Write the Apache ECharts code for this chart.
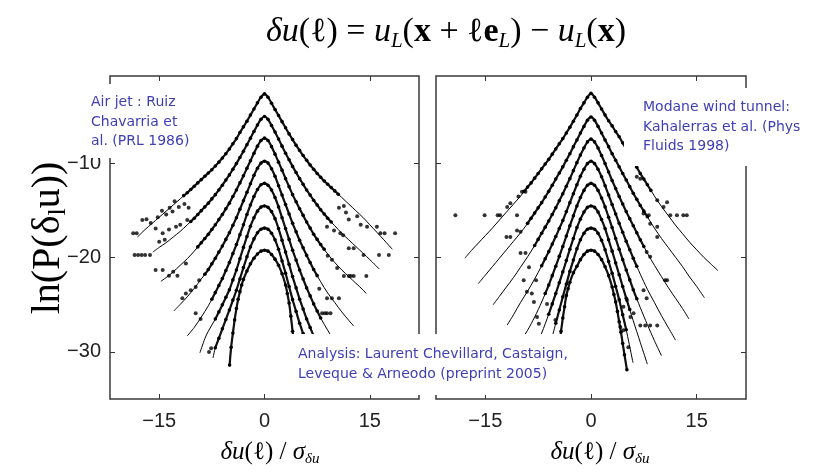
<!DOCTYPE html>
<html>
<head>
<meta charset="utf-8">
<script src="https://cdn.jsdelivr.net/npm/echarts@6/dist/echarts.min.js"></script>
<style>
  html, body { margin: 0; padding: 0; background: #fff; }
  #chart { width: 819px; height: 474px; }
</style>
</head>
<body>
<div id="chart"></div>
<script>
// Axis ticks and ranges (units of delta-u / sigma, and natural log of the PDF)
const X_TICKS = [-15, 0, 15];
const Y_TICKS = [-30, -20, -10];
const X_RANGE = [-22, 22];
const Y_RANGE = [-35, -0.7];

// ---- Air jet: fitted curves, one per scale, shifted vertically ----
const jetFit = [
  [[-18.1,-17.8],[-17,-17.0],[-16,-16.35],[-15,-15.7],[-14,-15.05],[-13,-14.4],[-12,-13.75],[-11,-13.1],[-10,-12.4],[-9,-11.7],[-8,-11.0],[-7,-10.25],[-6,-9.4],[-5,-8.45],[-4,-7.35],[-3,-6.1],[-2,-4.85],[-1.5,-4.2],[-1,-3.55],[-0.5,-2.95],[0,-2.6],[0.5,-2.95],[1,-3.6],[1.5,-4.25],[2,-4.9],[3,-6.2],[4,-7.45],[5,-8.6],[6,-9.65],[7,-10.6],[8,-11.45],[9,-12.2],[10,-12.9],[11,-13.6],[12,-14.3],[13,-15.0],[14,-15.7],[15,-16.5],[16,-17.3],[17,-18.1],[18.2,-19.1]],
  [[-15.9,-19.4],[-15,-18.9],[-14,-18.4],[-13,-17.8],[-12,-17.2],[-11,-16.5],[-10,-15.8],[-9,-15.0],[-8,-14.2],[-7,-13.3],[-6,-12.3],[-5,-11.2],[-4,-10.0],[-3,-8.7],[-2,-7.3],[-1.5,-6.6],[-1,-5.9],[-0.5,-5.3],[0,-5.0],[0.5,-5.3],[1,-5.95],[1.5,-6.65],[2,-7.4],[3,-8.9],[4,-10.3],[5,-11.6],[6,-12.8],[7,-13.9],[8,-14.9],[9,-15.8],[10,-16.6],[11,-17.4],[12,-18.1],[13,-18.8],[14,-19.5],[15,-20.2],[16.35,-21.2]],
  [[-14.75,-22.5],[-14,-22.1],[-13,-21.5],[-12,-20.8],[-11,-20.1],[-10,-19.3],[-9,-18.4],[-8,-17.5],[-7,-16.5],[-6,-15.4],[-5,-14.2],[-4,-12.8],[-3,-11.3],[-2,-9.7],[-1.5,-8.9],[-1,-8.15],[-0.5,-7.55],[0,-7.3],[0.5,-7.55],[1,-8.2],[1.5,-9.0],[2,-9.85],[3,-11.6],[4,-13.3],[5,-14.8],[6,-16.2],[7,-17.5],[8,-18.6],[9,-19.6],[10,-20.5],[11,-21.3],[12,-22.0],[13,-22.7],[14,-23.4],[14.5,-23.8]],
  [[-12.9,-25.65],[-12,-24.95],[-11,-24.15],[-10,-23.25],[-9,-22.25],[-8,-21.25],[-7,-20.05],[-6,-18.75],[-5,-17.35],[-4,-15.75],[-3,-13.95],[-2,-12.15],[-1.5,-11.25],[-1,-10.5],[-0.5,-9.95],[0,-9.75],[0.5,-9.95],[1,-10.55],[1.5,-11.35],[2,-12.35],[3,-14.35],[4,-16.35],[5,-18.15],[6,-19.75],[7,-21.25],[8,-22.55],[9,-23.75],[10,-24.75],[11,-25.75],[12,-26.65],[12.7,-27.25]],
  [[-11,-28.3],[-10,-27.4],[-9,-26.3],[-8,-25.1],[-7,-23.7],[-6,-22.2],[-5,-20.5],[-4,-18.6],[-3,-16.5],[-2,-14.4],[-1.5,-13.5],[-1,-12.75],[-0.5,-12.25],[0,-12.1],[0.5,-12.3],[1,-12.8],[1.5,-13.6],[2,-14.6],[3,-16.9],[4,-19.2],[5,-21.3],[6,-23.2],[7,-24.9],[8,-26.4],[9,-27.7],[10,-28.9],[11,-29.9]],
  [[-9.2,-30.1],[-8.5,-28.6],[-8,-27.8],[-7,-26.5],[-6,-25.0],[-5,-23.4],[-4,-21.3],[-3,-18.9],[-2,-16.65],[-1.5,-15.75],[-1,-15.05],[-0.5,-14.62],[0,-14.5],[0.5,-14.65],[1,-15.1],[1.5,-15.85],[2,-16.9],[3,-19.4],[4,-22.0],[5,-24.4],[6,-26.5],[7,-28.3],[8,-29.9]],
  [[-7.33,-30.65],[-7,-29.55],[-6,-27.55],[-5,-25.55],[-4,-23.45],[-3,-21.05],[-2,-18.85],[-1.5,-18.0],[-1,-17.35],[-0.5,-16.97],[0,-16.85],[0.5,-16.97],[1,-17.4],[1.5,-18.1],[2,-19.1],[3,-21.65],[4,-24.45],[5,-26.95],[6,-29.15],[6.5,-30.2]],
  [[-4.97,-31.4],[-4.75,-29.5],[-4.5,-28.0],[-4.25,-26.6],[-4,-25.4],[-3.5,-23.6],[-3,-22.3],[-2.5,-21.4],[-2,-20.65],[-1.5,-20.05],[-1,-19.6],[-0.5,-19.3],[0,-19.2],[0.5,-19.3],[1,-19.65],[1.5,-20.15],[2,-20.8],[2.5,-21.7],[3,-22.9],[3.5,-24.8],[4,-27.8],[4.5,-31.2]]
];

// ---- Air jet: measured histogram points along each curve ----
const jetDots = [
  [[-11.5,-13.4],[-11,-13.1],[-10.5,-12.75],[-10,-12.4],[-9.5,-12.05],[-9,-11.7],[-8.5,-11.35],[-8,-11.0],[-7.5,-10.65],[-7,-10.25],[-6.5,-9.85],[-6,-9.4],[-5.5,-8.95],[-5,-8.45],[-4.5,-7.9],[-4,-7.35],[-3.5,-6.7],[-3,-6.1],[-2.5,-5.5],[-2,-4.85],[-1.5,-4.2],[-1,-3.55],[-0.5,-2.95],[0,-2.6],[0.5,-2.95],[1,-3.6],[1.5,-4.25],[2,-4.9],[2.5,-5.55],[3,-6.2],[3.5,-6.85],[4,-7.45],[4.5,-8.05],[5,-8.6],[5.5,-9.15],[6,-9.65],[6.5,-10.15],[7,-10.6],[7.5,-11.05],[8,-11.45],[8.5,-11.85],[9,-12.2],[9.5,-12.55],[10,-12.9],[10.5,-13.25]],
  [[-10.5,-16.15],[-10,-15.8],[-9.5,-15.4],[-9,-15.0],[-8.5,-14.6],[-8,-14.2],[-7.5,-13.75],[-7,-13.3],[-6.5,-12.8],[-6,-12.3],[-5.5,-11.75],[-5,-11.2],[-4.5,-10.6],[-4,-10.0],[-3.5,-9.35],[-3,-8.7],[-2.5,-8.0],[-2,-7.3],[-1.5,-6.6],[-1,-5.9],[-0.5,-5.3],[0,-5.0],[0.5,-5.3],[1,-5.95],[1.5,-6.65],[2,-7.4],[2.5,-8.15],[3,-8.9],[3.5,-9.6],[4,-10.3],[4.5,-10.95],[5,-11.6],[5.5,-12.2],[6,-12.8],[6.5,-13.35],[7,-13.9],[7.5,-14.4],[8,-14.9],[8.5,-15.35],[9,-15.8],[9.5,-16.2]],
  [[-9.5,-18.85],[-9,-18.4],[-8.5,-17.95],[-8,-17.5],[-7.5,-17.0],[-7,-16.5],[-6.5,-15.95],[-6,-15.4],[-5.5,-14.8],[-5,-14.2],[-4.5,-13.5],[-4,-12.8],[-3.5,-12.05],[-3,-11.3],[-2.5,-10.5],[-2,-9.7],[-1.5,-8.9],[-1,-8.15],[-0.5,-7.55],[0,-7.3],[0.5,-7.55],[1,-8.2],[1.5,-9.0],[2,-9.85],[2.5,-10.7],[3,-11.6],[3.5,-12.45],[4,-13.3],[4.5,-14.05],[5,-14.8],[5.5,-15.5],[6,-16.2],[6.5,-16.85],[7,-17.5],[7.5,-18.05],[8,-18.6],[8.5,-19.1]],
  [[-8.5,-21.75],[-8,-21.25],[-7.5,-20.65],[-7,-20.05],[-6.5,-19.4],[-6,-18.75],[-5.5,-18.05],[-5,-17.35],[-4.5,-16.55],[-4,-15.75],[-3.5,-14.85],[-3,-13.95],[-2.5,-13.05],[-2,-12.15],[-1.5,-11.25],[-1,-10.5],[-0.5,-9.95],[0,-9.75],[0.5,-9.95],[1,-10.55],[1.5,-11.35],[2,-12.35],[2.5,-13.35],[3,-14.35],[3.5,-15.35],[4,-16.35],[4.5,-17.25],[5,-18.15],[5.5,-18.95],[6,-19.75],[6.5,-20.5],[7,-21.25],[7.5,-21.9]],
  [[-7.5,-24.4],[-7,-23.7],[-6.5,-22.95],[-6,-22.2],[-5.5,-21.35],[-5,-20.5],[-4.5,-19.55],[-4,-18.6],[-3.5,-17.55],[-3,-16.5],[-2.5,-15.4],[-2,-14.4],[-1.5,-13.5],[-1,-12.75],[-0.5,-12.25],[0,-12.1],[0.5,-12.3],[1,-12.8],[1.5,-13.6],[2,-14.6],[2.5,-15.75],[3,-16.9],[3.5,-18.05],[4,-19.2],[4.5,-20.25],[5,-21.3],[5.5,-22.25],[6,-23.2],[6.5,-24.05],[7,-24.9],[7.5,-25.65],[8,-26.4]],
  [[-7,-26.5],[-6.5,-25.75],[-6,-25.0],[-5.5,-24.2],[-5,-23.4],[-4.5,-22.35],[-4,-21.3],[-3.5,-20.1],[-3,-18.9],[-2.5,-17.75],[-2,-16.65],[-1.5,-15.75],[-1,-15.05],[-0.5,-14.62],[0,-14.5],[0.5,-14.65],[1,-15.1],[1.5,-15.85],[2,-16.9],[2.5,-18.15],[3,-19.4],[3.5,-20.7],[4,-22.0],[4.5,-23.2],[5,-24.4],[5.5,-25.45],[6,-26.5],[6.5,-27.4],[7,-28.3]],
  [[-7,-29.55],[-6.5,-28.55],[-6,-27.55],[-5.5,-26.55],[-5,-25.55],[-4.5,-24.5],[-4,-23.45],[-3.5,-22.25],[-3,-21.05],[-2.5,-19.9],[-2,-18.85],[-1.5,-18.0],[-1,-17.35],[-0.5,-16.97],[0,-16.85],[0.5,-16.97],[1,-17.4],[1.5,-18.1],[2,-19.1],[2.5,-20.35],[3,-21.65],[3.5,-23.05],[4,-24.45],[4.5,-25.7],[5,-26.95],[5.5,-28.05],[6,-29.15]],
  [[-4.97,-31.4],[-4.75,-29.5],[-4.5,-28.0],[-4.25,-26.6],[-4,-25.4],[-3.75,-24.4],[-3.5,-23.6],[-3.25,-22.9],[-3,-22.3],[-2.5,-21.4],[-2,-20.65],[-1.5,-20.05],[-1,-19.6],[-0.5,-19.3],[0,-19.2],[0.5,-19.3],[1,-19.65],[1.5,-20.15],[2,-20.8],[2.5,-21.7],[3,-22.9],[3.25,-23.8],[3.5,-24.8],[3.75,-26.2],[4,-27.8],[4.25,-29.4]]
];

// ---- Air jet: sparse tail points (few counts per bin) ----
const jetScatter = [
  [-18.7,-17.4],[-18.2,-17.4],[-17.4,-16.0],[-16.8,-15.9],[-16.2,-16.3],[-15.2,-15.7],[-14.6,-15.0],[-14.0,-15.4],[-13.5,-14.7],[-13.1,-15.1],[-12.8,-14.0],[-12.2,-14.6],[-11.4,-14.3],[-10.8,-14.7],
  [-15.5,-16.9],[-14.5,-17.4],[-13.6,-17.0],[-12.6,-16.7],[-12.0,-16.5],[-11.0,-16.0],[-15.0,-18.3],[-14.2,-18.1],
  [-18.5,-19.7],[-18.0,-19.7],[-17.5,-19.7],[-17.0,-19.7],[-16.3,-19.7],
  [-15.5,-21.3],[-14.5,-21.3],[-13.0,-21.5],[-13.6,-21.9],[-12.4,-21.9],[-11.2,-20.6],
  [-11.7,-24.3],[-11.2,-23.8],[-10.5,-23.45],[-9.8,-23.1],[-9.3,-22.4],
  [-9.8,-25.9],[-9.1,-26.5],[-7.9,-30.0],[-7.6,-29.6],
  [10.6,-14.7],[11.3,-14.5],[11.6,-15.2],[12.0,-15.95],[13.2,-15.6],[13.7,-16.5],[14.6,-16.7],[16.0,-16.7],[16.5,-17.4],[17.1,-17.4],[18.6,-17.4],
  [8.9,-16.7],[9.9,-17.1],[10.8,-17.4],[11.2,-17.6],[12.0,-19.0],[12.7,-19.0],[14.1,-19.7],[16.3,-19.7],[17.7,-19.7],
  [9.0,-19.8],[9.6,-20.2],[10.35,-21.1],[11.3,-21.95],[12.0,-21.95],[12.3,-21.95],[12.7,-21.95],[14.5,-21.95],
  [7.8,-23.3],[8.9,-24.3],[9.6,-24.3],[10.6,-24.3],[8.2,-25.9],[8.6,-25.9],[8.9,-25.9],[9.4,-25.9]
];

// ---- Wind tunnel: fitted curves ----
const tunnelFit = [
  [[-17.9,-20.05],[-17,-19.25],[-16,-18.45],[-15,-17.65],[-14,-16.85],[-13,-16.0],[-12,-15.15],[-11,-14.3],[-10,-13.45],[-9,-12.5],[-8,-11.55],[-7,-10.55],[-6,-9.55],[-5,-8.45],[-4,-7.35],[-3,-6.15],[-2,-4.85],[-1.5,-4.15],[-1,-3.55],[-0.5,-2.95],[0,-2.55],[0.5,-2.95],[1,-3.55],[1.5,-4.2],[2,-4.85],[3,-6.0],[4,-7.15],[5,-8.45],[6,-9.75],[7,-11.05],[8,-12.25],[9,-13.45],[10,-14.55],[11,-15.55],[12,-16.55],[13,-17.45],[14,-18.35],[15,-19.15],[16,-19.95],[17,-20.65],[18,-21.35]],
  [[-16,-22.75],[-15,-21.85],[-14,-20.95],[-13,-20.05],[-12,-19.15],[-11,-18.25],[-10,-17.35],[-9,-16.35],[-8,-15.25],[-7,-14.15],[-6,-12.95],[-5,-11.65],[-4,-10.35],[-3,-8.95],[-2,-7.5],[-1.5,-6.75],[-1,-6.05],[-0.5,-5.4],[0,-5.05],[0.5,-5.4],[1,-6.05],[1.5,-6.75],[2,-7.5],[3,-8.95],[4,-10.35],[5,-11.75],[6,-13.15],[7,-14.45],[8,-15.65],[9,-16.85],[10,-17.95],[11,-18.95],[12,-19.95],[13,-20.95],[14,-22.05],[15,-23.05],[16.1,-24.25]],
  [[-13.9,-25.0],[-13,-24.1],[-12,-23.1],[-11,-22.1],[-10,-21.0],[-9,-19.9],[-8,-18.7],[-7,-17.4],[-6,-16.1],[-5,-14.7],[-4,-13.2],[-3,-11.6],[-2,-9.9],[-1.5,-9.1],[-1,-8.35],[-0.5,-7.7],[0,-7.4],[0.5,-7.7],[1,-8.35],[1.5,-9.15],[2,-10.0],[3,-11.8],[4,-13.5],[5,-15.1],[6,-16.6],[7,-18.1],[8,-19.5],[9,-20.8],[10,-22.0],[11,-23.2],[12,-24.3],[13,-25.4],[13.9,-26.5]],
  [[-11.9,-27.15],[-11,-26.05],[-10,-24.75],[-9,-23.55],[-8,-22.25],[-7,-20.85],[-6,-19.35],[-5,-17.75],[-4,-16.05],[-3,-14.15],[-2,-12.25],[-1.5,-11.35],[-1,-10.6],[-0.5,-10.0],[0,-9.75],[0.5,-10.0],[1,-10.6],[1.5,-11.4],[2,-12.35],[3,-14.35],[4,-16.35],[5,-18.25],[6,-20.05],[7,-21.75],[8,-23.35],[9,-24.75],[10,-26.15],[11,-27.45],[12,-28.75]],
  [[-10.5,-29.5],[-10,-28.9],[-9,-27.7],[-8,-26.3],[-7,-24.7],[-6,-22.9],[-5,-20.9],[-4,-18.8],[-3,-16.6],[-2,-14.5],[-1.5,-13.6],[-1,-12.85],[-0.5,-12.3],[0,-12.1],[0.5,-12.3],[1,-12.85],[1.5,-13.65],[2,-14.6],[3,-16.8],[4,-19.1],[5,-21.3],[6,-23.4],[7,-25.3],[8,-27.1],[9,-28.8],[10,-30.4]],
  [[-8,-29.8],[-7,-28.0],[-6,-26.0],[-5,-23.8],[-4,-21.5],[-3,-19.1],[-2,-16.8],[-1.5,-15.9],[-1,-15.15],[-0.5,-14.65],[0,-14.5],[0.5,-14.65],[1,-15.15],[1.5,-15.95],[2,-16.9],[3,-19.3],[4,-21.8],[5,-24.3],[6,-26.7],[7,-29.0],[8,-31.3]],
  [[-6,-29.85],[-5,-26.95],[-4,-24.15],[-3,-21.45],[-2,-19.05],[-1.5,-18.1],[-1,-17.4],[-0.5,-16.97],[0,-16.85],[0.5,-16.97],[1,-17.4],[1.5,-18.15],[2,-19.15],[3,-21.65],[4,-24.45],[5,-27.65],[5.96,-31.15]],
  [[-4.5,-29.2],[-4,-26.4],[-3.5,-24.0],[-3,-22.6],[-2.5,-21.6],[-2,-20.9],[-1.5,-20.2],[-1,-19.65],[-0.5,-19.3],[0,-19.2],[0.5,-19.3],[1,-19.65],[1.5,-20.2],[2,-20.95],[2.5,-21.9],[3,-23.1],[3.5,-24.7],[4,-26.8],[4.5,-29.1],[5.1,-31.9]]
];

// ---- Wind tunnel: measured histogram points along each curve ----
const tunnelDots = [
  [[-9.5,-12.95],[-9,-12.5],[-8.5,-12.05],[-8,-11.55],[-7.5,-11.05],[-7,-10.55],[-6.5,-10.05],[-6,-9.55],[-5.5,-9.0],[-5,-8.45],[-4.5,-7.9],[-4,-7.35],[-3.5,-6.75],[-3,-6.15],[-2.5,-5.5],[-2,-4.85],[-1.5,-4.15],[-1,-3.55],[-0.5,-2.95],[0,-2.55],[0.5,-2.95],[1,-3.55],[1.5,-4.2],[2,-4.85],[2.5,-5.45],[3,-6.0],[3.5,-6.6],[4,-7.15],[4.5,-7.8],[5,-8.45],[5.5,-9.1],[6,-9.75],[6.5,-10.4],[7,-11.05],[7.5,-11.65],[8,-12.25],[8.5,-12.85]],
  [[-9,-16.35],[-8.5,-15.8],[-8,-15.25],[-7.5,-14.7],[-7,-14.15],[-6.5,-13.55],[-6,-12.95],[-5.5,-12.3],[-5,-11.65],[-4.5,-11.0],[-4,-10.35],[-3.5,-9.65],[-3,-8.95],[-2.5,-8.2],[-2,-7.5],[-1.5,-6.75],[-1,-6.05],[-0.5,-5.4],[0,-5.05],[0.5,-5.4],[1,-6.05],[1.5,-6.75],[2,-7.5],[2.5,-8.2],[3,-8.95],[3.5,-9.65],[4,-10.35],[4.5,-11.05],[5,-11.75],[5.5,-12.45],[6,-13.15],[6.5,-13.8],[7,-14.45],[7.5,-15.05],[8,-15.65]],
  [[-8,-18.7],[-7.5,-18.05],[-7,-17.4],[-6.5,-16.75],[-6,-16.1],[-5.5,-15.4],[-5,-14.7],[-4.5,-13.95],[-4,-13.2],[-3.5,-12.4],[-3,-11.6],[-2.5,-10.75],[-2,-9.9],[-1.5,-9.1],[-1,-8.35],[-0.5,-7.7],[0,-7.4],[0.5,-7.7],[1,-8.35],[1.5,-9.15],[2,-10.0],[2.5,-10.9],[3,-11.8],[3.5,-12.65],[4,-13.5],[4.5,-14.3],[5,-15.1],[5.5,-15.85],[6,-16.6],[6.5,-17.35],[7,-18.1],[7.5,-18.8]],
  [[-7,-20.85],[-6.5,-20.1],[-6,-19.35],[-5.5,-18.55],[-5,-17.75],[-4.5,-16.9],[-4,-16.05],[-3.5,-15.1],[-3,-14.15],[-2.5,-13.2],[-2,-12.25],[-1.5,-11.35],[-1,-10.6],[-0.5,-10.0],[0,-9.75],[0.5,-10.0],[1,-10.6],[1.5,-11.4],[2,-12.35],[2.5,-13.35],[3,-14.35],[3.5,-15.35],[4,-16.35],[4.5,-17.3],[5,-18.25],[5.5,-19.15],[6,-20.05],[6.5,-20.9]],
  [[-6.5,-23.8],[-6,-22.9],[-5.5,-21.9],[-5,-20.9],[-4.5,-19.85],[-4,-18.8],[-3.5,-17.7],[-3,-16.6],[-2.5,-15.55],[-2,-14.5],[-1.5,-13.6],[-1,-12.85],[-0.5,-12.3],[0,-12.1],[0.5,-12.3],[1,-12.85],[1.5,-13.65],[2,-14.6],[2.5,-15.7],[3,-16.8],[3.5,-17.95],[4,-19.1],[4.5,-20.2],[5,-21.3],[5.5,-22.35],[6,-23.4],[6.5,-24.35]],
  [[-6,-26.0],[-5.5,-24.9],[-5,-23.8],[-4.5,-22.65],[-4,-21.5],[-3.5,-20.3],[-3,-19.1],[-2.5,-17.95],[-2,-16.8],[-1.5,-15.9],[-1,-15.15],[-0.5,-14.65],[0,-14.5],[0.5,-14.65],[1,-15.15],[1.5,-15.95],[2,-16.9],[2.5,-18.1],[3,-19.3],[3.5,-20.55],[4,-21.8],[4.5,-23.05],[5,-24.3],[5.5,-25.5]],
  [[-5,-26.95],[-4.5,-25.55],[-4,-24.15],[-3.5,-22.8],[-3,-21.45],[-2.5,-20.25],[-2,-19.05],[-1.5,-18.1],[-1,-17.4],[-0.5,-16.97],[0,-16.85],[0.5,-16.97],[1,-17.4],[1.5,-18.15],[2,-19.15],[2.5,-20.4],[3,-21.65],[3.5,-23.05],[4,-24.45],[4.5,-26.05],[5,-27.65]],
  [[-4.5,-29.2],[-4.25,-27.8],[-4,-26.4],[-3.75,-25.2],[-3.5,-24.0],[-3.25,-23.3],[-3,-22.6],[-2.5,-21.6],[-2,-20.9],[-1.5,-20.2],[-1,-19.65],[-0.5,-19.3],[0,-19.2],[0.5,-19.3],[1,-19.65],[1.5,-20.2],[2,-20.95],[2.5,-21.9],[3,-23.1],[3.25,-23.9],[3.5,-24.7],[3.75,-25.7],[4,-26.8],[4.25,-27.9],[4.5,-29.1],[4.75,-30.3],[5.1,-31.9]]
];

// ---- Wind tunnel: sparse tail points ----
const tunnelScatter = [
  [-19.25,-15.5],[-15.1,-15.5],[-13.25,-15.5],[-12.9,-15.5],[-10.5,-15.5],[-11.9,-14.6],[-11.45,-14.2],[-10.3,-13.5],[-9.8,-13.0],[-9.3,-13.0],
  [-12.0,-17.8],[-11.45,-17.8],[-10.5,-17.1],[-10.0,-17.25],[-10.0,-19.5],[-9.3,-19.5],[-8.8,-21.0],[-9.55,-22.4],[-7.8,-22.4],
  [-9.1,-23.6],[-8.4,-23.8],[-8.1,-24.7],[-7.66,-26.3],[-7.4,-27.0],[-6.24,-24.9],[-5.06,-26.6],
  [6.5,-11.4],[7.0,-11.6],[9.4,-13.9],[10.8,-14.1],[10.3,-14.6],[11.25,-15.5],[12.2,-15.5],[13.1,-15.5],[13.6,-15.5],
  [7.46,-15.3],[8.2,-15.5],[8.4,-16.4],[9.4,-16.7],[9.4,-17.8],[7.9,-19.4],[8.4,-19.9],[10.5,-22.4],[10.8,-22.4],
  [7.46,-23.45],[7.9,-24.3],[7.0,-27.2],[7.7,-27.2],[8.4,-27.2],[9.4,-27.2],[5.6,-26.3],[6.04,-25.9],
  [4.6,-25.2],[5.1,-24.5],[5.3,-29.5],[4.16,-27.35],[4.6,-27.7]
];

const chart = echarts.init(document.getElementById('chart'), null, { renderer: 'canvas' });

const GRIDS = [
  { left: 110, top: 76, width: 309, height: 323 },
  { left: 436, top: 76, width: 310, height: 323 }
];

const minus = v => (v < 0 ? '\u2212' + Math.abs(v) : String(v));
const tickStyle = { color: '#333', width: 1 };

const xAxes = [], yAxes = [];
GRIDS.forEach((g, gi) => {
  ['bottom', 'top'].forEach(pos => {
    xAxes.push({
      gridIndex: gi, type: 'value', position: pos,
      min: X_RANGE[0], max: X_RANGE[1], interval: 11,
      axisLine: { show: false, onZero: false }, splitLine: { show: false },
      axisTick: { inside: true, length: 5, customValues: X_TICKS, lineStyle: tickStyle },
      axisLabel: {
        show: pos === 'bottom', customValues: X_TICKS, formatter: minus,
        fontFamily: 'Liberation Sans', fontSize: 20, color: '#222', margin: 12
      }
    });
  });
  ['left', 'right'].forEach(pos => {
    yAxes.push({
      gridIndex: gi, type: 'value', position: pos,
      min: Y_RANGE[0], max: Y_RANGE[1], interval: 5,
      axisLine: { show: false, onZero: false }, splitLine: { show: false },
      axisTick: { inside: true, length: 5, customValues: Y_TICKS, lineStyle: tickStyle },
      axisLabel: {
        show: gi === 0 && pos === 'left', customValues: Y_TICKS, formatter: minus,
        fontFamily: 'Liberation Sans', fontSize: 20, color: '#222', margin: 9
      }
    });
  });
});

const series = [];
[[jetFit, jetDots, jetScatter], [tunnelFit, tunnelDots, tunnelScatter]].forEach(([fits, dots, extra], gi) => {
  fits.forEach(curve => {
    series.push({
      type: 'line', xAxisIndex: gi * 2, yAxisIndex: gi * 2,
      data: curve, showSymbol: false, smooth: 0.3, silent: true,
      lineStyle: { color: '#000', width: 1 }, z: 3
    });
  });
  // densely binned points: drawn as a beaded trace
  dots.forEach(curve => {
    series.push({
      type: 'line', xAxisIndex: gi * 2, yAxisIndex: gi * 2,
      data: curve, symbol: 'circle', symbolSize: 3.6, showSymbol: true, smooth: 0.3, silent: true,
      itemStyle: { color: '#000' }, lineStyle: { color: '#111', width: 2.2 }, z: 4
    });
  });
  series.push({
    type: 'scatter', xAxisIndex: gi * 2, yAxisIndex: gi * 2,
    data: extra, symbol: 'circle', symbolSize: 4, silent: true,
    itemStyle: { color: '#000' }, z: 4
  });
});

const serif = '"Liberation Serif", "Times New Roman", serif';
const noteFont = '14px "DejaVu Sans", Verdana, sans-serif';
const noteColor = '#3e3eb6';

const graphic = [
  // formula heading
  {
    type: 'text', x: 446, y: 32, z: 120,
    style: {
      align: 'center', verticalAlign: 'middle',
      text: '{i|δu}{r|(ℓ) = }{i|u}{s|L}{r|(}{b|x}{r| + ℓ}{b|e}{s|L}{r|) − }{i|u}{s|L}{r|(}{b|x}{r|)}',
      rich: {
        i: { fontFamily: serif, fontStyle: 'italic', fontSize: 34, lineHeight: 40, fill: '#000' },
        r: { fontFamily: serif, fontSize: 34, lineHeight: 40, fill: '#000' },
        b: { fontFamily: serif, fontWeight: 'bold', fontSize: 34, lineHeight: 40, fill: '#000' },
        s: { fontFamily: serif, fontStyle: 'italic', fontSize: 21, lineHeight: 22, verticalAlign: 'bottom', fill: '#000' }
      }
    }
  },
  // y-axis title
  {
    type: 'text', x: 48, y: 238, rotation: Math.PI / 2, z: 120,
    style: {
      align: 'center', verticalAlign: 'middle',
      text: '{r|ln(P(δ}{s|l}{r|u))}',
      rich: {
        r: { fontFamily: serif, fontSize: 40, lineHeight: 46, fill: '#000' },
        s: { fontFamily: serif, fontSize: 26, lineHeight: 26, verticalAlign: 'bottom', fill: '#000' }
      }
    }
  }
];

// x-axis titles under each panel
[270, 600].forEach(cx => {
  graphic.push({
    type: 'text', x: cx, y: 452, z: 120,
    style: {
      align: 'center', verticalAlign: 'middle',
      text: '{i|δu}{r|(ℓ) / }{i|σ}{s|δu}',
      rich: {
        i: { fontFamily: serif, fontStyle: 'italic', fontSize: 25, lineHeight: 30, fill: '#000' },
        r: { fontFamily: serif, fontSize: 25, lineHeight: 30, fill: '#000' },
        s: { fontFamily: serif, fontStyle: 'italic', fontSize: 15, lineHeight: 15, verticalAlign: 'bottom', fill: '#000' }
      }
    }
  });
});

// annotation boxes
const notes = [
  { box: [86, 84, 110, 74], at: [91, 93], text: 'Air jet : Ruiz\nChavarria et\nal. (PRL 1986)' },
  { box: [624, 88, 182, 78], at: [643, 98], text: 'Modane wind tunnel:\nKahalerras et al. (Phys\nFluids 1998)' },
  { box: [290, 334, 283, 61], at: [298, 345], text: 'Analysis: Laurent Chevillard, Castaign,\nLeveque & Arneodo (preprint 2005)' }
];
notes.forEach(n => {
  graphic.push({
    type: 'rect', z: 110,
    shape: { x: n.box[0], y: n.box[1], width: n.box[2], height: n.box[3] },
    style: { fill: '#fff' }
  });
  graphic.push({
    type: 'text', x: n.at[0], y: n.at[1], z: 111,
    style: { text: n.text, font: noteFont, fill: noteColor, lineHeight: 19.5, align: 'left', verticalAlign: 'top' }
  });
});

chart.setOption({
  animation: false,
  backgroundColor: '#fff',
  grid: GRIDS.map(g => Object.assign({ show: true, borderColor: '#3a3a3a', borderWidth: 1.5, backgroundColor: 'transparent' }, g)),
  xAxis: xAxes,
  yAxis: yAxes,
  series: series,
  graphic: graphic
});
</script>
</body>
</html>
